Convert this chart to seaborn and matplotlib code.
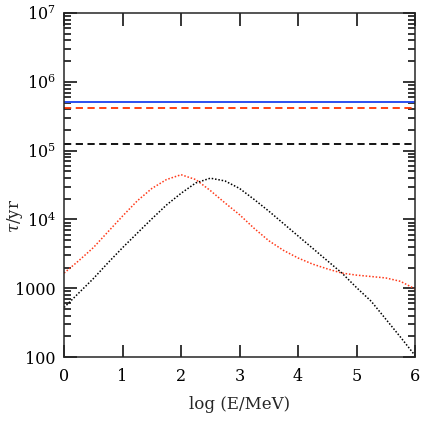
import numpy as np
import pandas as pd
import matplotlib
matplotlib.use('Agg')
import matplotlib.pyplot as plt
import seaborn as sns
from matplotlib.ticker import FixedLocator, LogLocator, FuncFormatter, NullFormatter

# energies (log E/MeV) where the curves were read
log_e = [0, 0.25, 0.5, 0.75, 1, 1.25, 1.5, 1.75, 2, 2.25, 2.5, 2.75, 3,
         3.25, 3.5, 3.75, 4, 4.25, 4.5, 4.75, 5, 5.25, 5.5, 5.75, 6]

# timescales in yr
tau_red = [1660, 2510, 3890, 6610, 11200, 18600, 28200, 38000, 44700, 38000,
           26300, 17400, 11700, 7410, 4900, 3550, 2750, 2240, 1910, 1660,
           1550, 1480, 1410, 1260, 977]
tau_black = [525, 851, 1380, 2340, 3890, 6310, 10200, 16200, 24000, 33900,
             39800, 36300, 28200, 19500, 13200, 8710, 5750, 3800, 2510, 1660,
             1020, 646, 355, 195, 105]

# constant levels
tau_blue_solid = 5.08e5
tau_red_dashed = 4.12e5
tau_black_dashed = 1.25e5

sns.set_style('ticks')
plt.rcParams['font.family'] = ['DejaVu Serif']
plt.rcParams['mathtext.fontset'] = 'dejavuserif'

df = pd.DataFrame({'logE': log_e, 'red': tau_red, 'black': tau_black})

fig = plt.figure(figsize=(4.36, 4.22), dpi=100)
ax = fig.add_axes([0.147, 0.154, 0.805, 0.815])

ax.axhline(tau_blue_solid, color='#2a4ff0', lw=1.4)
ax.axhline(tau_red_dashed, color='#ff3300', lw=1.3, ls=(0, (4, 2.5)))
ax.axhline(tau_black_dashed, color='black', lw=1.3, ls=(0, (4, 2.5)))

sns.lineplot(data=df, x='logE', y='red', ax=ax, color='#ff3a1a', lw=1.1,
             linestyle=(0, (1, 1.2)))
sns.lineplot(data=df, x='logE', y='black', ax=ax, color='black', lw=1.1,
             linestyle=(0, (1, 1.2)))

ax.set_yscale('log')
ax.set_xlim(0, 6)
ax.set_ylim(100, 1e7)
ax.xaxis.set_major_locator(FixedLocator([0, 1, 2, 3, 4, 5, 6]))
ax.yaxis.set_major_locator(LogLocator(base=10, numticks=10))
ax.yaxis.set_minor_locator(LogLocator(base=10, subs=np.arange(2, 10), numticks=20))
ax.yaxis.set_minor_formatter(NullFormatter())


def fmt(v, pos):
    if v < 5000:
        return '%d' % round(v)
    return r'$10^{%d}$' % round(np.log10(v))


ax.yaxis.set_major_formatter(FuncFormatter(fmt))
ax.tick_params(which='both', direction='in', top=True, right=True, width=1.1,
               labelsize=11.5, colors='black')
ax.tick_params(which='major', length=9, pad=6)
ax.tick_params(which='minor', length=5)
ax.tick_params(axis='x', pad=8)
for s in ax.spines.values():
    s.set_linewidth(1.1)

ax.set_xlabel('log (E/MeV)', fontsize=12, labelpad=8)
ax.set_ylabel(r'$\tau$/yr', fontsize=12)
ax.yaxis.set_label_coords(-0.11, 0.41)

fig.savefig('out.png', dpi=100)
